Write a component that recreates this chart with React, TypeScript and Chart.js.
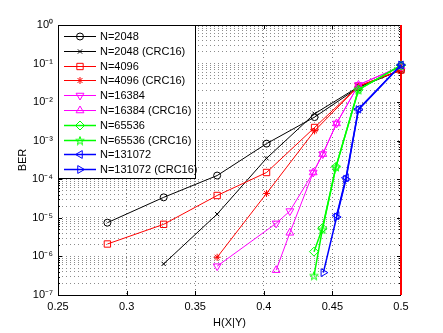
import React, { useEffect, useRef } from 'react';
import { Chart, registerables } from 'chart.js';
import { drawPoint } from 'chart.js/helpers';

Chart.register(...registerables);

// ---- data ----
const seriesLabels = [
  'N=2048', 'N=2048 (CRC16)', 'N=4096', 'N=4096 (CRC16)', 'N=16384',
  'N=16384 (CRC16)', 'N=65536', 'N=65536 (CRC16)', 'N=131072', 'N=131072 (CRC16)',
];

const x2048 = [0.286, 0.327, 0.366, 0.402, 0.437, 0.469, 0.5];
const y2048 = [7.5e-6, 3.4e-5, 1.25e-4, 8.4e-4, 4.1e-3, 0.024, 0.068];
const x2048crc = [0.327, 0.366, 0.402, 0.437, 0.469, 0.5];
const y2048crc = [6.4e-7, 1.25e-5, 3.5e-4, 5.0e-3, 0.025, 0.068];
const x4096 = [0.286, 0.327, 0.366, 0.402, 0.437, 0.469, 0.5];
const y4096 = [2.1e-6, 6.8e-6, 3.8e-5, 1.5e-4, 2.2e-3, 0.026, 0.068];
const x4096crc = [0.366, 0.402, 0.437, 0.469, 0.5];
const y4096crc = [9.5e-7, 4.3e-5, 1.8e-3, 0.026, 0.068];
const x16384 = [0.366, 0.409, 0.419, 0.436, 0.443, 0.453, 0.469, 0.5];
const y16384 = [5.6e-7, 7.2e-6, 1.5e-5, 1.5e-4, 4.5e-4, 2.8e-3, 0.028, 0.085];
const x16384crc = [0.409, 0.419, 0.436, 0.443, 0.453, 0.469, 0.5];
const y16384crc = [4.4e-7, 4.1e-6, 1.5e-4, 4.5e-4, 2.8e-3, 0.028, 0.085];
const x65536 = [0.4366, 0.4427, 0.4526, 0.469, 0.5];
const y65536 = [1.33e-6, 5.4e-6, 2.1e-4, 0.021, 0.09];
const x65536crc = [0.4366, 0.4427, 0.4526, 0.469, 0.5];
const y65536crc = [3.2e-7, 5.0e-6, 2.1e-4, 0.021, 0.09];
const x131072 = [0.4531, 0.4599, 0.469, 0.5];
const y131072 = [1.15e-5, 1.1e-4, 6.6e-3, 0.092];
const x131072crc = [0.4434, 0.4531, 0.4599, 0.469, 0.5];
const y131072crc = [3.8e-7, 1.05e-5, 1.0e-4, 6.4e-3, 0.092];

const limitX = [0.5, 0.5];
const limitY = [1e-7, 1];

const xTickValues = [0.25, 0.3, 0.35, 0.4, 0.45, 0.5];
const xTickLabels = ['0.25', '0.3', '0.35', '0.4', '0.45', '0.5'];
const yDecadeExps = [-7, -6, -5, -4, -3, -2, -1, 0];
const yTickLabels = ['10⁻⁷', '10⁻⁶', '10⁻⁵', '10⁻⁴', '10⁻³', '10⁻²', '10⁻¹', '10⁰'];

const FONT = "'Liberation Sans', Arial, Helvetica, sans-serif";

function makePentagram(color: string, size: number) {
  const c = document.createElement('canvas');
  c.width = size;
  c.height = size;
  const ctx = c.getContext('2d')!;
  const cx = size / 2, cy = size / 2 + 0.5;
  const R = size / 2 - 0.5, r = R * 0.4;
  ctx.beginPath();
  for (let i = 0; i < 10; i++) {
    const a = -Math.PI / 2 + (i * Math.PI) / 5;
    const rr = i % 2 === 0 ? R : r;
    const px = cx + Math.cos(a) * rr, py = cy + Math.sin(a) * rr;
    if (i === 0) ctx.moveTo(px, py); else ctx.lineTo(px, py);
  }
  ctx.closePath();
  ctx.strokeStyle = color;
  ctx.lineWidth = 1;
  ctx.stroke();
  return c;
}

function pts(xs: number[], ys: number[]) {
  return xs.map((x, i) => ({ x, y: ys[i] }));
}

const axesBoxPlugin = {
  id: 'axesBox',
  beforeDatasetsDraw(chart: any) {
    const { ctx, chartArea } = chart;
    const { left, right, top, bottom } = chartArea;
    const xs = chart.scales.x, ys = chart.scales.y;
    ctx.save();
    ctx.strokeStyle = '#000';
    ctx.lineWidth = 1;
    ctx.beginPath();
    ctx.moveTo(left + 0.5, top + 0.5);
    ctx.lineTo(right, top + 0.5);
    ctx.moveTo(left + 0.5, top);
    ctx.lineTo(left + 0.5, bottom + 0.5);
    ctx.lineTo(right, bottom + 0.5);
    // x ticks inward
    xTickValues.forEach((v) => {
      const p = Math.round(xs.getPixelForValue(v)) + 0.5;
      ctx.moveTo(p, bottom);
      ctx.lineTo(p, bottom - 4);
      ctx.moveTo(p, top);
      ctx.lineTo(p, top + 4);
    });
    // y ticks inward (decades + minors)
    yDecadeExps.forEach((e) => {
      for (let m = 1; m <= 9; m++) {
        if (e === 0 && m > 1) break;
        const v = m * Math.pow(10, e);
        const p = Math.round(ys.getPixelForValue(v)) + 0.5;
        const len = m === 1 ? 4 : 2;
        ctx.moveTo(left, p);
        ctx.lineTo(left + len, p);
        ctx.moveTo(right, p);
        ctx.lineTo(right - len, p);
      }
    });
    ctx.stroke();
    ctx.restore();
  },
};

const legendPlugin = {
  id: 'matlabLegend',
  afterDatasetsDraw(chart: any) {
    const { ctx, chartArea } = chart;
    const x0 = chartArea.left, y0 = chartArea.top;
    const w = 138, h = 154;
    ctx.save();
    ctx.fillStyle = '#fff';
    ctx.fillRect(x0, y0, w, h);
    ctx.strokeStyle = '#000';
    ctx.lineWidth = 1;
    ctx.strokeRect(x0 + 0.5, y0 + 0.5, w - 1, h - 1);
    let k = 0;
    chart.data.datasets.forEach((ds: any) => {
      if (!ds.label) return;
      const y = Math.round(y0 + 11 + k * 14.8) + 0.5;
      k++;
      ctx.strokeStyle = ds.borderColor;
      ctx.lineWidth = ds.borderWidth;
      ctx.beginPath();
      ctx.moveTo(x0 + 6, y);
      ctx.lineTo(x0 + 38, y);
      ctx.stroke();
      ctx.fillStyle = 'rgba(0,0,0,0)';
      ctx.lineWidth = 1;
      drawPoint(ctx, {
        pointStyle: ds.pointStyle,
        rotation: ds.pointRotation || 0,
        radius: ds.pointRadius,
        borderWidth: 1,
      } as any, x0 + 22, y);
      ctx.fillStyle = '#000';
      ctx.font = `11px ${FONT}`;
      ctx.textBaseline = 'middle';
      ctx.textAlign = 'left';
      ctx.fillText(ds.label, x0 + 42, y);
    });
    ctx.restore();
  },
};

export default function App() {
  const ref = useRef<HTMLCanvasElement>(null);

  useEffect(() => {
    const canvas = ref.current!;
    const pent = makePentagram('#00ff00', 10);

    const mk = (i: number, xs: number[], ys: number[], color: string, style: any, radius: number, rot = 0, width = 1) => ({
      label: seriesLabels[i],
      data: pts(xs, ys),
      borderColor: color,
      borderWidth: width,
      pointStyle: style,
      pointRotation: rot,
      pointRadius: radius,
      pointBorderColor: color,
      pointBackgroundColor: 'rgba(0,0,0,0)',
      pointBorderWidth: 1,
      showLine: true,
      clip: false as any,
      order: 20 - i,
    });

    const datasets: any[] = [
      mk(0, x2048, y2048, '#000000', 'circle', 3.5),
      mk(1, x2048crc, y2048crc, '#000000', 'crossRot', 3),
      mk(2, x4096, y4096, '#ff0000', 'rect', 4.5),
      mk(3, x4096crc, y4096crc, '#ff0000', 'star', 3.5),
      mk(4, x16384, y16384, '#ff00ff', 'triangle', 4.5, 180),
      mk(5, x16384crc, y16384crc, '#ff00ff', 'triangle', 4.5, 0),
      mk(6, x65536, y65536, '#00ff00', 'rectRot', 4.5, 0, 1.5),
      mk(7, x65536crc, y65536crc, '#00ff00', pent, 5, 0, 1.5),
      mk(8, x131072, y131072, '#0000ff', 'triangle', 4.5, 270, 1.5),
      mk(9, x131072crc, y131072crc, '#0000ff', 'triangle', 4.5, 90, 1.5),
      {
        label: '',
        data: pts(limitX, limitY),
        borderColor: '#ff0000',
        borderWidth: 2,
        pointRadius: 0,
        showLine: true,
        clip: false,
        order: 100,
      },
    ];

    const chart = new Chart(canvas, {
      type: 'scatter',
      data: { datasets },
      options: {
        responsive: false,
        animation: false,
        devicePixelRatio: 1,
        layout: { padding: { left: 0, right: 42, top: 25, bottom: 0 } },
        plugins: { legend: { display: false }, tooltip: { enabled: false } },
        elements: { line: { tension: 0 } },
        scales: {
          x: {
            type: 'linear',
            min: 0.25,
            max: 0.5,
            afterBuildTicks: (s: any) => { s.ticks = xTickValues.map((v) => ({ value: v })); },
            afterFit: (s: any) => { s.height = 38; },
            ticks: {
              autoSkip: false,
              maxRotation: 0,
              padding: 5,
              color: '#000',
              font: { family: FONT, size: 11 },
              callback: (v: any) => {
                const i = xTickValues.findIndex((t) => Math.abs(t - Number(v)) < 1e-9);
                return i >= 0 ? xTickLabels[i] : '';
              },
            },
            grid: { color: 'rgba(0,0,0,0.5)', lineWidth: 1, drawTicks: false },
            border: { display: false, dash: [1, 3] },
            title: {
              display: true,
              text: 'H(X|Y)',
              color: '#000',
              font: { family: FONT, size: 11 },
              padding: { top: 2, bottom: 3 },
            },
          },
          y: {
            type: 'logarithmic',
            min: 1e-7,
            max: 1,
            afterBuildTicks: (s: any) => {
              const t: any[] = [];
              yDecadeExps.forEach((e) => {
                for (let m = 1; m <= 9; m++) {
                  if (e === 0 && m > 1) break;
                  t.push({ value: m * Math.pow(10, e) });
                }
              });
              s.ticks = t;
            },
            afterFit: (s: any) => { s.width = 58; },
            ticks: {
              autoSkip: false,
              padding: 5,
              color: '#000',
              font: { family: FONT, size: 11 },
              callback: (v: any) => {
                const l = Math.log10(Number(v));
                const r = Math.round(l);
                if (Math.abs(l - r) > 1e-6) return '';
                const i = yDecadeExps.indexOf(r);
                return i >= 0 ? yTickLabels[i] : '';
              },
            },
            grid: { color: 'rgba(0,0,0,0.45)', lineWidth: 1, drawTicks: false },
            border: { display: false, dash: [1, 3] },
            title: {
              display: true,
              text: 'BER',
              color: '#000',
              font: { family: FONT, size: 11 },
              padding: { top: 16, bottom: 0 },
            },
          },
        },
      } as any,
      plugins: [axesBoxPlugin, legendPlugin],
    });

    return () => chart.destroy();
  }, []);

  return (
    <div style={{ position: 'absolute', left: 0, top: 0, width: 443, height: 333, background: '#fff' }}>
      <canvas ref={ref} width={443} height={333} style={{ display: 'block' }} />
    </div>
  );
}
